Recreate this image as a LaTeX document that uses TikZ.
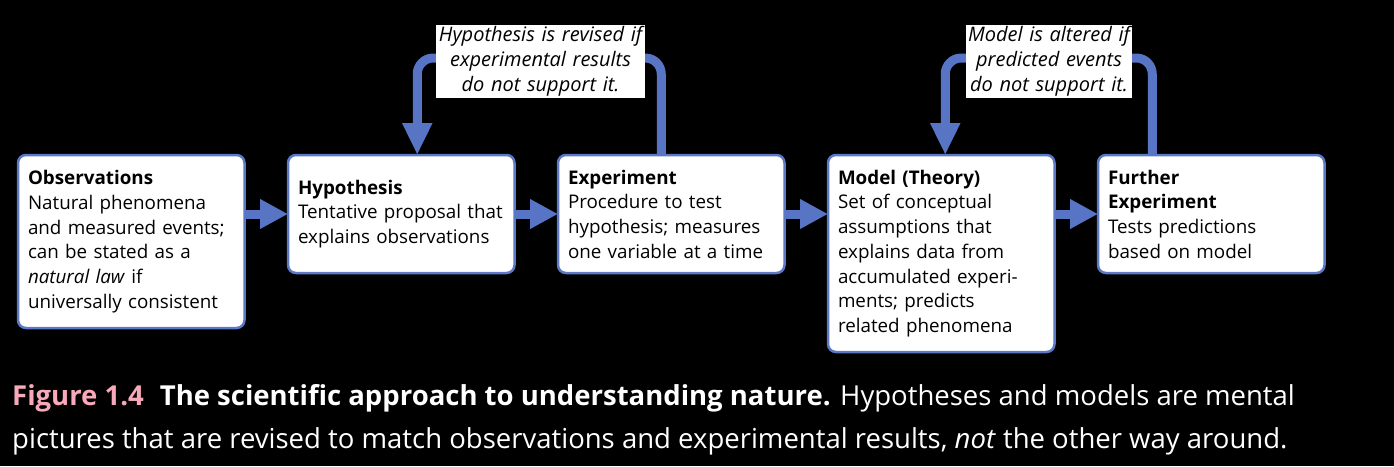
\documentclass[tikz,border=0pt]{standalone}
\usepackage{fontspec}
\setmainfont{Open Sans}
\usepackage{xcolor}
\definecolor{box-blue}{HTML}{5B79C6}
\definecolor{arrow-blue}{HTML}{5874C4}
\definecolor{fig-pink}{HTML}{F7A9BA}
\usetikzlibrary{arrows.meta}
\usetikzlibrary{positioning}
\tikzset{stepbox/.style = {draw=box-blue, line width=2.5pt, outer sep=0pt, rounded corners=8pt, fill=white, anchor=north west, align=left, inner xsep=10pt, text width=206.5pt, font=\fontsize{18.8}{24.7}\selectfont}}
\tikzset{note/.style = {fill=white, inner sep=0pt, text width=208pt, minimum height=73pt, align=center, font=\fontsize{20}{25}\selectfont\itshape}}
\tikzset{arr/.style = {draw=arrow-blue, line width=9pt, -{Triangle[length=28pt, width=28pt]}}}
\tikzset{loop/.style = {arr, rounded corners=16pt, -{Triangle[length=32pt, width=28pt]}}}
\tikzset{caption/.style = {text=white, anchor=base west, inner sep=0pt, font=\fontsize{27.5}{30}\selectfont}}

\begin{document}
\begin{tikzpicture}[x=1pt, y=-1pt, node distance=43.5pt]

\useasboundingbox (0,0) rectangle (1394,466);
\fill[black] (0,0) rectangle (1394,466);

\node[stepbox, minimum height=173pt] at (18,155) (obs) {\textbf{Observations}\\
  Natural phenomena\\
  and measured events;\\
  can be stated as a\\
  \textit{natural law} if\\
  universally consistent};
\node[stepbox, minimum height=118pt, right=of obs.north east, anchor=north west] (hyp) {\textbf{Hypothesis}\\
  Tentative proposal that\\
  explains observations};
\node[stepbox, minimum height=118pt, right=of hyp.north east, anchor=north west] (exp) {\textbf{Experiment}\\
  Procedure to test\\
  hypothesis; measures\\
  one variable at a time};
\node[stepbox, minimum height=197pt, right=of exp.north east, anchor=north west] (model) {\textbf{Model (Theory)}\\
  Set of conceptual\\
  assumptions that\\
  explains data from\\
  accumulated experi-\\
  ments; predicts\\
  related phenomena};
\node[stepbox, minimum height=118pt, right=of model.north east, anchor=north west] (further) {\textbf{Further}\\
  \textbf{Experiment}\\
  Tests predictions\\
  based on model};

% forward arrows
\draw[arr] (obs.east |- hyp.west) -- (hyp.west);
\draw[arr] (hyp.east) -- (exp.west);
\draw[arr] (exp.east) -- (exp.east -| model.west);
\draw[arr] (model.east |- further.west) -- (further.west);

% feedback loops
\draw[loop] ([xshift=-10pt]exp.north) -- ++(0,-97) -| ([xshift=16pt]hyp.north);
\draw[loop] ([xshift=-59pt]further.north) -- ++(0,-97) -| ([xshift=4pt]model.north);

\node[note, minimum width=209pt] at (540.5,61.5) (revnote) {Hypothesis is revised if\\
  experimental results\\
  do not support it.};
\node[note, minimum width=166pt, text width=166pt] at (1049,61) (altnote) {Model is altered if\\
  predicted events\\
  do not support it.};

% caption
\node[caption] at (12,405) (cap1) {\textcolor{fig-pink}{\textbf{Figure 1.4}}\hspace{16pt}\textbf{The scientific approach to understanding nature.} Hypotheses and models are mental};
\node[caption] at (12,448) (cap2) {pictures that are revised to match observations and experimental results, \textit{not} the other way around.};

\end{tikzpicture}
\end{document}
